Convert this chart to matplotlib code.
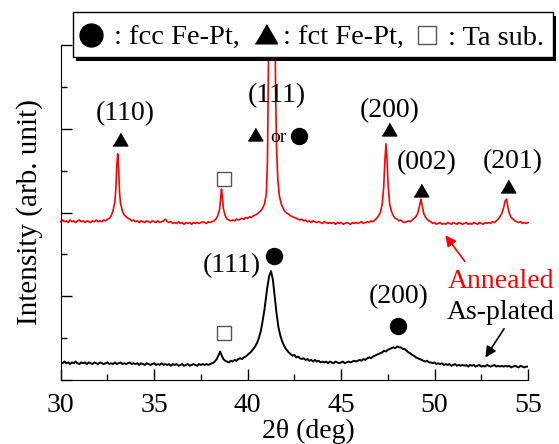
import matplotlib
matplotlib.use("Agg")
import matplotlib.pyplot as plt
import numpy as np
from matplotlib.lines import Line2D
from matplotlib.patches import Rectangle

plt.rcParams['font.family'] = ['Liberation Serif', 'DejaVu Serif']

# annealed sample (red)
ann_x = [30.0, 30.1, 30.2, 30.3, 30.4, 30.5, 30.6, 30.7, 30.8, 30.9, 31.0, 31.1, 31.2, 31.3,
         31.4, 31.5, 31.6, 31.7, 31.8, 31.9, 32.0, 32.1, 32.2, 32.3, 32.4, 32.5, 32.6,
         32.7, 32.8, 32.9, 32.95, 33.0, 33.05, 33.1, 33.15, 33.2, 33.3, 33.4, 33.5, 33.6, 33.7,
         33.8, 33.9, 34.0, 34.1, 34.2, 34.3, 34.4, 34.5, 34.6, 34.7, 34.8, 34.9, 35.0, 35.1,
         35.2, 35.3, 35.4, 35.5, 35.6, 35.7, 35.8, 35.9, 36.0, 36.1, 36.2, 36.3, 36.4, 36.5,
         36.6, 36.7, 36.8, 36.9, 37.0, 37.1, 37.2, 37.3, 37.4, 37.5, 37.6, 37.7, 37.8, 37.9,
         38.0, 38.1, 38.2, 38.3, 38.4, 38.5, 38.55, 38.6, 38.65, 38.7, 38.8, 38.9, 39.0, 39.1,
         39.2, 39.3, 39.4, 39.5, 39.6, 39.7, 39.8, 39.9, 40.0, 40.1, 40.2, 40.3, 40.4, 40.5,
         40.6, 40.7, 40.8, 40.9, 41.0, 41.06, 41.1, 41.12, 41.14, 41.46, 41.48, 41.5, 41.55,
         41.62, 41.7, 41.8, 41.9, 42.0, 42.1, 42.2, 42.3, 42.4, 42.5, 42.6, 42.7, 42.8, 42.9,
         43.0, 43.1, 43.2, 43.3, 43.4, 43.5, 43.6, 43.7, 43.8, 43.9, 44.0, 44.1, 44.2, 44.3,
         44.4, 44.5, 44.6, 44.7, 44.8, 44.9, 45.0, 45.1, 45.2, 45.3, 45.4, 45.5, 45.6, 45.7,
         45.8, 45.9, 46.0, 46.1, 46.2, 46.3, 46.4, 46.5, 46.6, 46.7, 46.8, 46.9, 47.0, 47.1,
         47.2, 47.28, 47.34, 47.4, 47.46, 47.52, 47.6, 47.7, 47.8, 47.9, 48.0, 48.1, 48.2,
         48.3, 48.4, 48.5, 48.6, 48.7, 48.8, 48.9, 49.0, 49.1, 49.2, 49.27, 49.34, 49.42, 49.5,
         49.6, 49.7, 49.8, 49.9, 50.0, 50.1, 50.2, 50.3, 50.4, 50.5, 50.6, 50.7, 50.8, 50.9,
         51.0, 51.1, 51.2, 51.3, 51.4, 51.5, 51.6, 51.7, 51.8, 51.9, 52.0, 52.1, 52.2, 52.3,
         52.4, 52.5, 52.6, 52.7, 52.8, 52.9, 53.0, 53.1, 53.2, 53.3, 53.4, 53.5, 53.6, 53.7,
         53.78, 53.85, 53.92, 54.0, 54.1, 54.2, 54.3, 54.4, 54.5, 54.6, 54.7, 54.8, 54.9, 55.0]
ann_y = [1.89, 1.91, 1.89, 1.90, 1.88, 1.91, 1.89, 1.90, 1.88, 1.90, 1.91, 1.89, 1.90, 1.88,
         1.90, 1.89, 1.88, 1.90, 1.89, 1.91, 1.89, 1.90, 1.89, 1.91, 1.90, 1.92, 1.93,
         1.96, 2.02, 2.13, 2.28, 2.56, 2.70, 2.52, 2.24, 2.11, 2.02, 1.97, 1.95, 1.93, 1.92,
         1.90, 1.91, 1.89, 1.90, 1.88, 1.90, 1.89, 1.88, 1.90, 1.89, 1.88, 1.90, 1.89, 1.88,
         1.90, 1.88, 1.89, 1.90, 1.92, 1.89, 1.88, 1.89, 1.87, 1.88, 1.87, 1.89, 1.87, 1.88,
         1.86, 1.88, 1.87, 1.88, 1.86, 1.88, 1.87, 1.88, 1.87, 1.88, 1.89, 1.88, 1.87, 1.89,
         1.88, 1.89, 1.90, 1.92, 1.96, 2.04, 2.15, 2.28, 2.19, 2.05, 1.96, 1.92, 1.91, 1.90,
         1.91, 1.90, 1.92, 1.91, 1.92, 1.93, 1.92, 1.94, 1.93, 1.95, 1.94, 1.96, 1.97, 1.98,
         2.00, 2.02, 2.05, 2.10, 2.22, 2.60, 3.40, 3.90, 4.35, 4.35, 3.90, 3.40, 2.75,
         2.38, 2.20, 2.10, 2.05, 2.01, 1.99, 1.98, 1.96, 1.95, 1.94, 1.93, 1.92, 1.91, 1.92,
         1.90, 1.91, 1.89, 1.90, 1.88, 1.90, 1.89, 1.88, 1.89, 1.88, 1.87, 1.89, 1.88, 1.87,
         1.88, 1.87, 1.88, 1.86, 1.88, 1.87, 1.88, 1.86, 1.87, 1.88, 1.87, 1.86, 1.88, 1.87,
         1.88, 1.87, 1.88, 1.89, 1.87, 1.88, 1.89, 1.88, 1.90, 1.89, 1.91, 1.93, 1.96, 2.00,
         2.10, 2.30, 2.60, 2.82, 2.62, 2.32, 2.10, 2.01, 1.96, 1.93, 1.92, 1.90, 1.91,
         1.89, 1.88, 1.89, 1.90, 1.89, 1.91, 1.93, 1.95, 1.99, 2.08, 2.16, 2.08, 1.99, 1.95,
         1.92, 1.90, 1.89, 1.87, 1.88, 1.86, 1.87, 1.88, 1.86, 1.87, 1.86, 1.88, 1.87, 1.86,
         1.88, 1.87, 1.86, 1.88, 1.87, 1.86, 1.87, 1.88, 1.86, 1.87, 1.86, 1.88, 1.87, 1.86,
         1.88, 1.87, 1.86, 1.88, 1.87, 1.88, 1.87, 1.89, 1.88, 1.90, 1.92, 1.95, 1.99, 2.06,
         2.14, 2.16, 2.07, 1.99, 1.94, 1.92, 1.90, 1.89, 1.88, 1.89, 1.87, 1.88, 1.87, 1.88]

# as-plated sample (black)
asp_x = [30.0, 30.1, 30.2, 30.3, 30.4, 30.5, 30.6, 30.7, 30.8, 30.9, 31.0, 31.1, 31.2, 31.3,
         31.4, 31.5, 31.6, 31.7, 31.8, 31.9, 32.0, 32.1, 32.2, 32.3, 32.4, 32.5, 32.6, 32.7,
         32.8, 32.9, 33.0, 33.1, 33.2, 33.3, 33.4, 33.5, 33.6, 33.7, 33.8, 33.9, 34.0, 34.1,
         34.2, 34.3, 34.4, 34.5, 34.6, 34.7, 34.8, 34.9, 35.0, 35.1, 35.2, 35.3, 35.4, 35.5,
         35.6, 35.7, 35.8, 35.9, 36.0, 36.1, 36.2, 36.3, 36.4, 36.5, 36.6, 36.7, 36.8, 36.9,
         37.0, 37.1, 37.2, 37.3, 37.4, 37.5, 37.6, 37.7, 37.8, 37.9, 38.0, 38.1, 38.2,
         38.35, 38.45, 38.53, 38.6, 38.7, 38.8, 38.9, 39.0, 39.1, 39.2, 39.3, 39.4, 39.5, 39.6,
         39.7, 39.8, 39.9, 40.0, 40.1, 40.2, 40.3, 40.4, 40.5, 40.6, 40.7, 40.8, 40.9, 40.95,
         41.05, 41.15, 41.25, 41.35, 41.45, 41.55, 41.65, 41.75, 41.85, 41.95, 42.05, 42.2,
         42.3, 42.4, 42.5, 42.6, 42.7, 42.8, 42.9, 43.0, 43.1, 43.2, 43.3, 43.4, 43.5, 43.6,
         43.7, 43.8, 43.9, 44.0, 44.1, 44.2, 44.3, 44.4, 44.5, 44.6, 44.7, 44.8, 44.9, 45.0,
         45.1, 45.2, 45.3, 45.4, 45.5, 45.6, 45.7, 45.8, 45.9, 46.0, 46.1, 46.2, 46.3, 46.4,
         46.5, 46.6, 46.7, 46.8, 46.9, 47.0, 47.1, 47.2, 47.3, 47.4, 47.5, 47.6, 47.7, 47.8,
         47.9, 48.0, 48.1, 48.2, 48.3, 48.4, 48.5, 48.6, 48.7, 48.8, 48.9, 49.0, 49.1, 49.2,
         49.3, 49.4, 49.5, 49.6, 49.7, 49.8, 49.9, 50.0, 50.1, 50.2, 50.3, 50.4, 50.5, 50.6,
         50.7, 50.8, 50.9, 51.0, 51.1, 51.2, 51.3, 51.4, 51.5, 51.6, 51.7, 51.8, 51.9, 52.0,
         52.1, 52.2, 52.3, 52.4, 52.5, 52.6, 52.7, 52.8, 52.9, 53.0, 53.1, 53.2, 53.3, 53.4,
         53.5, 53.6, 53.7, 53.8, 53.9, 54.0, 54.1, 54.2, 54.3, 54.4, 54.5, 54.6, 54.7, 54.8,
         54.9, 55.0]
asp_y = [0.21, 0.20, 0.22, 0.20, 0.21, 0.19, 0.21, 0.20, 0.22, 0.20, 0.19, 0.21, 0.20, 0.21,
         0.19, 0.21, 0.20, 0.19, 0.21, 0.20, 0.19, 0.21, 0.20, 0.19, 0.20, 0.21, 0.19, 0.20,
         0.19, 0.21, 0.19, 0.20, 0.21, 0.19, 0.20, 0.19, 0.20, 0.21, 0.19, 0.20, 0.19, 0.20,
         0.18, 0.20, 0.19, 0.18, 0.20, 0.19, 0.18, 0.19, 0.20, 0.18, 0.19, 0.18, 0.20, 0.18,
         0.19, 0.18, 0.19, 0.17, 0.19, 0.18, 0.19, 0.17, 0.18, 0.19, 0.17, 0.18, 0.19, 0.17,
         0.18, 0.19, 0.18, 0.17, 0.19, 0.18, 0.19, 0.18, 0.19, 0.18, 0.19, 0.20, 0.21,
         0.25, 0.30, 0.34, 0.30, 0.25, 0.23, 0.22, 0.21, 0.23, 0.22, 0.24, 0.23, 0.25, 0.26,
         0.25, 0.27, 0.28, 0.30, 0.32, 0.34, 0.37, 0.40, 0.44, 0.50, 0.58, 0.70, 0.84, 0.93,
         1.10, 1.24, 1.30, 1.20, 0.99, 0.79, 0.63, 0.53, 0.46, 0.41, 0.37, 0.33,
         0.31, 0.29, 0.30, 0.27, 0.28, 0.26, 0.25, 0.26, 0.24, 0.25, 0.23, 0.24, 0.22, 0.24,
         0.22, 0.23, 0.21, 0.22, 0.21, 0.22, 0.20, 0.22, 0.21, 0.20, 0.22, 0.21, 0.20, 0.21,
         0.22, 0.20, 0.21, 0.22, 0.21, 0.22, 0.23, 0.22, 0.23, 0.24, 0.23, 0.25, 0.24, 0.26,
         0.27, 0.26, 0.28, 0.29, 0.30, 0.31, 0.32, 0.33, 0.35, 0.34, 0.36, 0.37, 0.38, 0.39,
         0.38, 0.40, 0.39, 0.39, 0.37, 0.37, 0.35, 0.33, 0.32, 0.30, 0.29, 0.27, 0.26, 0.25,
         0.24, 0.23, 0.22, 0.23, 0.21, 0.21, 0.20, 0.21, 0.19, 0.20, 0.19, 0.20, 0.18, 0.19,
         0.18, 0.19, 0.17, 0.18, 0.19, 0.17, 0.18, 0.17, 0.18, 0.17, 0.18, 0.16, 0.18, 0.17,
         0.18, 0.16, 0.17, 0.18, 0.16, 0.17, 0.16, 0.18, 0.17, 0.16, 0.17, 0.18, 0.16, 0.17,
         0.16, 0.17, 0.16, 0.17, 0.16, 0.17, 0.15, 0.16, 0.17, 0.16, 0.15, 0.17, 0.16, 0.15,
         0.16, 0.16]

W, H = 559, 444
fig = plt.figure(figsize=(W / 100, H / 100), dpi=100)
ax = fig.add_axes([60.7 / W, 64 / H, 467.3 / W, 335 / H])

ax.plot(ann_x, ann_y, color='red', lw=1.2, clip_on=False, zorder=2)
ax.plot(asp_x, asp_y, color='black', lw=1.4, zorder=2)

ax.set_xlim(30, 55)
ax.set_ylim(0, 4)
ax.set_xticks([30, 35, 40, 45, 50, 55])
ax.set_xticks([32.5, 37.5, 42.5, 47.5, 52.5], minor=True)
ax.set_yticks([0, 1, 2, 3, 4])
ax.set_yticks([0.5, 1.5, 2.5, 3.5], minor=True)
ax.set_yticklabels([])
ax.tick_params(which='both', direction='in', width=1, labelsize=20, pad=9)
ax.tick_params(which='major', length=8)
ax.tick_params(which='minor', length=4.5)
ax.spines['top'].set_visible(False)
ax.spines['right'].set_visible(False)
ax.set_xlabel('2θ (deg)', fontsize=20)
ax.xaxis.set_label_coords(0.529, -0.116)
ax.set_ylabel('Intensity (arb. unit)', fontsize=21, labelpad=4)

tri = [(-1, -0.75), (1, -0.75), (0, 0.98)]

def mark(x, y, kind, ms=None):
    if kind == 'tri':
        ax.plot(x, y, marker=tri, ms=ms or 10.5, color='black', ls='none', clip_on=False)
    elif kind == 'dot':
        ax.plot(x, y, marker='o', ms=ms or 11.5, color='black', ls='none', clip_on=False)
    else:
        ax.plot(x, y, marker='s', ms=ms or 10, mfc='white', mec='#555555', mew=1,
                ls='none', clip_on=False)

# annealed labels
ax.text(33.43, 3.18, '(110)', fontsize=20, ha='center', va='center')
mark(33.19, 2.86, 'tri')
mark(38.72, 2.40, 'sq')
ax.text(41.56, 3.40, '(111)', fontsize=20, ha='center', va='center')
mark(40.41, 2.93, 'tri')
ax.text(41.62, 2.89, 'or', fontsize=14, ha='center', va='center')
mark(42.77, 2.91, 'dot')
ax.text(47.58, 3.22, '(200)', fontsize=20, ha='center', va='center')
mark(47.54, 2.98, 'tri')
ax.text(49.57, 2.60, '(002)', fontsize=20, ha='center', va='center')
mark(49.30, 2.26, 'tri')
ax.text(54.19, 2.61, '(201)', fontsize=20, ha='center', va='center')
mark(53.94, 2.30, 'tri')

# as-plated labels
ax.text(39.14, 1.37, '(111)', fontsize=20, ha='center', va='center')
mark(41.41, 1.48, 'dot')
mark(38.73, 0.56, 'sq')
ax.text(48.08, 1.00, '(200)', fontsize=20, ha='center', va='center')
mark(48.06, 0.64, 'dot')

ax.text(53.57, 1.10, 'Annealed', fontsize=20, color='red', ha='center', va='baseline')
ax.text(53.55, 0.73, 'As-plated', fontsize=20, color='black', ha='center', va='baseline')
ax.annotate('', xy=(50.49, 1.755), xytext=(51.71, 1.39),
            arrowprops=dict(arrowstyle='-|>', color='red', lw=1.2, mutation_scale=16))
ax.annotate('', xy=(52.64, 0.24), xytext=(53.80, 0.64),
            arrowprops=dict(arrowstyle='-|>', color='black', lw=1.2, mutation_scale=16))

# key box with a hard shadow
def fx(px):
    return px / W

def fy(py):
    return (H - py) / H

fig.add_artist(Rectangle((fx(76), fy(61)), fx(480), 45 / H, transform=fig.transFigure,
                         facecolor='black', edgecolor='none', zorder=5))
fig.add_artist(Rectangle((fx(73), fy(57)), fx(480), 45 / H, transform=fig.transFigure,
                         facecolor='white', edgecolor='black', lw=1, zorder=6))
yk = fy(35.5)
fig.add_artist(Line2D([fx(91)], [yk], marker='o', ms=16.5, color='black',
                      transform=fig.transFigure, zorder=7))
fig.text(fx(114), yk, ': fcc Fe-Pt,', fontsize=20.5, va='center_baseline', zorder=7)
fig.add_artist(Line2D([fx(266)], [yk], marker=tri, ms=16, color='black',
                      transform=fig.transFigure, zorder=7))
fig.text(fx(283), yk, ': fct Fe-Pt,', fontsize=20.5, va='center_baseline', zorder=7)
fig.add_artist(Line2D([fx(427)], [yk], marker='s', ms=13, mfc='white', mec='#555555',
                      mew=1, transform=fig.transFigure, zorder=7))
fig.text(fx(448), yk, ': Ta sub.', fontsize=20.5, va='center_baseline', zorder=7)

fig.savefig('out.png', dpi=100)
